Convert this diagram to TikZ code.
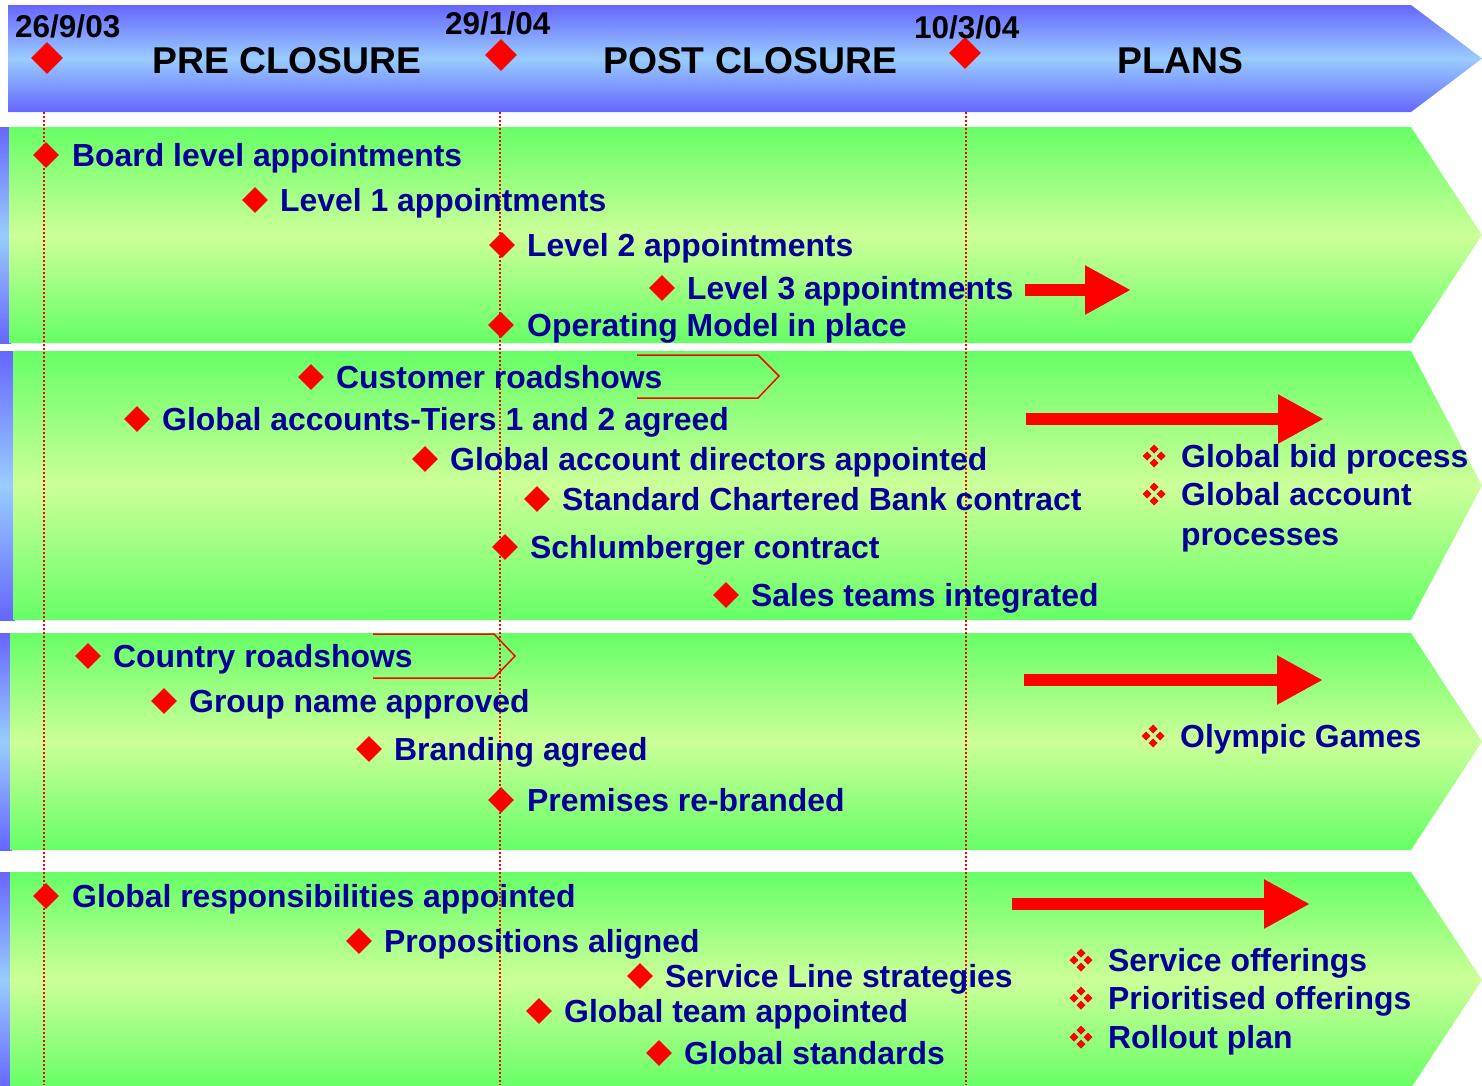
\documentclass[tikz,border=0pt]{standalone}
\usepackage{fontspec}
\setmainfont{Liberation Sans}
\usetikzlibrary{shapes.geometric,arrows.meta}

\definecolor{txtblue}{RGB}{0,0,153}
\definecolor{bandgreen}{RGB}{102,255,102}
\definecolor{bandlight}{RGB}{204,255,153}
\definecolor{hdrblue}{RGB}{102,102,255}
\definecolor{hdrlight}{RGB}{153,204,255}

\tikzset{
  item/.style={anchor=base west, inner sep=0pt, text=txtblue,
    font=\fontsize{31.9}{36}\selectfont\bfseries},
  bul/.style={diamond, fill=red, inner sep=0pt, minimum width=26pt, minimum height=26pt},
  hdrbul/.style={bul, minimum width=32pt, minimum height=32pt},
  datelbl/.style={anchor=base west, inner sep=0pt, font=\fontsize{31.5}{34}\selectfont\bfseries},
  phase/.style={anchor=base west, inner sep=0pt, font=\fontsize{37.3}{40}\selectfont\bfseries},
  bigarrow/.style={draw=red, line width=12pt, -{Triangle[length=46pt,width=46pt]}},
  roadshow/.style={draw=red, line width=1.5pt},
  guide/.style={draw=red, line width=1.5pt, dash pattern=on 2pt off 2pt},
  greenband/.style={top color=bandgreen, bottom color=bandgreen, middle color=bandlight},
  blueband/.style={top color=hdrblue, bottom color=hdrblue, middle color=hdrlight},
  quad/.pic={
    \foreach \dx/\dy in {-7/0,7/0,0/-7,0/7}
      \fill[red] (\dx,\dy) +(0,-4.5) -- +(4.5,0) -- +(0,4.5) -- +(-4.5,0) -- cycle;
  },
}

\begin{document}
\begin{tikzpicture}[x=1pt,y=-1pt]
\useasboundingbox (0,0) rectangle (1482,1085);
\fill[white] (0,0) rectangle (1482,1085);

% header arrow with the three phases
\shade[blueband] (8,5) -- (1411,5) -- (1482,58.5) -- (1411,112) -- (8,112) -- cycle;

% workstream bands: blue strip on the left, green chevron
\foreach \yt/\yb/\xl in {127/343/9, 351/620/13, 633/850/10, 872/1088/10}{
  \shade[blueband] (0,\yt) rectangle (\xl+2,\yb);
  \shade[greenband] (\xl,\yt) -- (1411,\yt) -- (1482,{(\yt+\yb)/2}) -- (1411,\yb) -- (\xl,\yb) -- cycle;
}

% milestone guide lines
\coordinate (g1t) at (44,112);  \coordinate (g1b) at (44,1085);
\coordinate (g2t) at (500,112); \coordinate (g2b) at (500,1085);
\coordinate (g3t) at (966,112); \coordinate (g3b) at (966,1085);
\draw[guide] (g1t) -- (g1b);
\draw[guide] (g2t) -- (g2b);
\draw[guide] (g3t) -- (g3b);

% header milestones and phases
\node[hdrbul] (m1) at (47,58) {};
\node[hdrbul] (m2) at (501,55) {};
\node[hdrbul] (m3) at (965,53) {};
\node[datelbl] (dt1) at (15,37) {26/9/03};
\node[datelbl] (dt2) at (445,34) {29/1/04};
\node[datelbl] (dt3) at (914,38) {10/3/04};
\node[phase] (ph1) at (152,73) {PRE CLOSURE};
\node[phase] (ph2) at (603,73) {POST CLOSURE};
\node[phase] (ph3) at (1117,73) {PLANS};

% band 1: appointments
\node[bul] (b1a) at (46,155) {};  \node[item] (t1a) at (72,166) {Board level appointments};
\node[bul] (b1b) at (255,200) {}; \node[item] (t1b) at (280,211) {Level 1 appointments};
\node[bul] (b1c) at (502,245) {}; \node[item] (t1c) at (527,256) {Level 2 appointments};
\node[bul] (b1d) at (662,288) {}; \node[item] (t1d) at (687,299) {Level 3 appointments};
\node[bul] (b1e) at (501,325) {}; \node[item] (t1e) at (527,336) {Operating Model in place};
\coordinate (a1s) at (1025,290); \coordinate (a1e) at (1131,290);
\draw[bigarrow] (a1s) -- (a1e);

% band 2: customers
\node[bul] (b2a) at (311,377) {}; \node[item] (t2a) at (336,388) {Customer roadshows};
\coordinate (r1a) at (637,355); \coordinate (r1b) at (758,355); \coordinate (r1c) at (779,376);
\coordinate (r1d) at (758,398); \coordinate (r1e) at (637,398);
\draw[roadshow] (r1a) -- (r1b) -- (r1c) -- (r1d) -- (r1e);
\node[bul] (b2b) at (137,419) {}; \node[item] (t2b) at (162,430) {Global accounts-Tiers 1 and 2 agreed};
\node[bul] (b2c) at (425,459) {}; \node[item] (t2c) at (450,470) {Global account directors appointed};
\node[bul] (b2d) at (537,499) {}; \node[item] (t2d) at (562,510) {Standard Chartered Bank contract};
\node[bul] (b2e) at (505,547) {}; \node[item] (t2e) at (530,558) {Schlumberger contract};
\node[bul] (b2f) at (726,595) {}; \node[item] (t2f) at (751,606) {Sales teams integrated};
\coordinate (a2s) at (1026,419); \coordinate (a2e) at (1324,419);
\draw[bigarrow] (a2s) -- (a2e);
\pic (q2a) at (1154,456) {quad}; \node[item] (p2a) at (1181,467) {Global bid process};
\pic (q2b) at (1154,494) {quad}; \node[item] (p2b) at (1181,505) {Global account};
\node[item] (p2c) at (1181,545) {processes};

% band 3: brand
\node[bul] (b3a) at (88,656) {};  \node[item] (t3a) at (113,667) {Country roadshows};
\coordinate (r2a) at (373,634); \coordinate (r2b) at (494,634); \coordinate (r2c) at (515,656);
\coordinate (r2d) at (494,678); \coordinate (r2e) at (373,678);
\draw[roadshow] (r2a) -- (r2b) -- (r2c) -- (r2d) -- (r2e);
\node[bul] (b3b) at (164,701) {}; \node[item] (t3b) at (189,712) {Group name approved};
\node[bul] (b3c) at (369,749) {}; \node[item] (t3c) at (394,760) {Branding agreed};
\node[bul] (b3d) at (501,800) {}; \node[item] (t3d) at (527,811) {Premises re-branded};
\coordinate (a3s) at (1024,680); \coordinate (a3e) at (1323,680);
\draw[bigarrow] (a3s) -- (a3e);
\pic (q3a) at (1153,736) {quad}; \node[item] (p3a) at (1180,747) {Olympic Games};

% band 4: service lines
\node[bul] (b4a) at (46,896) {};  \node[item] (t4a) at (72,907) {Global responsibilities appointed};
\node[bul] (b4b) at (359,941) {}; \node[item] (t4b) at (384,952) {Propositions aligned};
\node[bul] (b4c) at (640,976) {}; \node[item] (t4c) at (665,987) {Service Line strategies};
\node[bul] (b4d) at (539,1011) {}; \node[item] (t4d) at (564,1022) {Global team appointed};
\node[bul] (b4e) at (659,1053) {}; \node[item] (t4e) at (684,1064) {Global standards};
\coordinate (a4s) at (1012,904); \coordinate (a4e) at (1310,904);
\draw[bigarrow] (a4s) -- (a4e);
\pic (q4a) at (1081,960) {quad};  \node[item] (p4a) at (1108,971) {Service offerings};
\pic (q4b) at (1081,998) {quad};  \node[item] (p4b) at (1108,1009) {Prioritised offerings};
\pic (q4c) at (1081,1037) {quad}; \node[item] (p4c) at (1108,1048) {Rollout plan};
\end{tikzpicture}
\end{document}
